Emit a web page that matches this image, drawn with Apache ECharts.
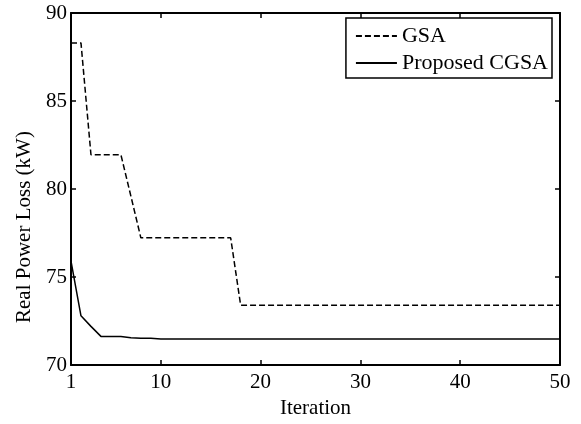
<!DOCTYPE html>
<html>
<head>
<meta charset="utf-8">
<script src="https://cdn.jsdelivr.net/npm/echarts@6/dist/echarts.min.js"></script>
<style>
html,body{margin:0;padding:0;background:#fff;}
#chart{width:581px;height:424px;}
</style>
</head>
<body>
<div id="chart"></div>
<script>
const iterations = [1,2,3,4,5,6,7,8,9,10,11,12,13,14,15,16,17,18,19,20,21,22,23,24,25,26,27,28,29,30,31,32,33,34,35,36,37,38,39,40,41,42,43,44,45,46,47,48,49,50];
const gsa = [88.3,88.3,81.95,81.95,81.95,81.95,79.6,77.23,77.23,77.23,77.23,77.23,77.23,77.23,77.23,77.23,77.23,73.4,73.4,73.4,73.4,73.4,73.4,73.4,73.4,73.4,73.4,73.4,73.4,73.4,73.4,73.4,73.4,73.4,73.4,73.4,73.4,73.4,73.4,73.4,73.4,73.4,73.4,73.4,73.4,73.4,73.4,73.4,73.4,73.4];
const cgsa = [75.9,72.8,72.2,71.63,71.63,71.62,71.55,71.53,71.52,71.48,71.48,71.48,71.48,71.48,71.48,71.48,71.48,71.48,71.48,71.48,71.48,71.48,71.48,71.48,71.48,71.48,71.48,71.48,71.48,71.48,71.48,71.48,71.48,71.48,71.48,71.48,71.48,71.48,71.48,71.48,71.48,71.48,71.48,71.48,71.48,71.48,71.48,71.48,71.48,71.48];
const xTicks = [1,10,20,30,40,50];
const yTicks = [70,75,80,85,90];
const seriesNames = ['GSA','Proposed CGSA'];
const xName = 'Iteration';
const yName = 'Real Power Loss (kW)';

const FONT = "'Liberation Serif','Times New Roman',serif";
const FS = 21;
const LFS = 22;
const pair = (vals) => iterations.map((x,i)=>[x, vals[i]]);

const baseAxisLine = {show:true, lineStyle:{color:'#000', width:2}};
const tickStyle = {show:true, inside:true, length:5, lineStyle:{color:'#000', width:1.5}};

const chart = echarts.init(document.getElementById('chart'), null, {renderer:'canvas'});
chart.setOption({
  animation:false,
  backgroundColor:'#fff',
  textStyle:{fontFamily:FONT},
  grid:{left:71, right:21, top:13, bottom:57, containLabel:false},
  legend:{
    right:29, top:18, orient:'vertical',
    data:seriesNames,
    itemWidth:41, itemHeight:14, itemGap:5,
    padding:[7,4,4,9],
    borderColor:'#000', borderWidth:1.5, backgroundColor:'#fff',
    itemStyle:{opacity:0},
    textStyle:{fontFamily:FONT, fontSize:LFS, color:'#000'}
  },
  xAxis:[{
    type:'value', min:1, max:50, position:'bottom',
    name:xName, nameLocation:'middle', nameGap:30,
    nameTextStyle:{fontFamily:FONT, fontSize:FS, color:'#000'},
    axisLine:baseAxisLine,
    axisTick:Object.assign({customValues:xTicks}, tickStyle),
    axisLabel:{customValues:xTicks, fontFamily:FONT, fontSize:FS, color:'#000', margin:7},
    splitLine:{show:false}
  },{
    type:'value', min:1, max:50, position:'top',
    axisLine:baseAxisLine,
    axisTick:Object.assign({customValues:xTicks}, tickStyle),
    axisLabel:{show:false, customValues:xTicks},
    splitLine:{show:false}
  }],
  yAxis:[{
    type:'value', min:yTicks[0], max:yTicks[yTicks.length-1], interval:5, position:'left',
    name:yName, nameLocation:'middle', nameGap:36,
    nameTextStyle:{fontFamily:FONT, fontSize:FS, color:'#000', padding:[0,76,0,0]},
    axisLine:baseAxisLine,
    axisTick:tickStyle,
    axisLabel:{fontFamily:FONT, fontSize:FS, color:'#000', margin:4},
    splitLine:{show:false}
  },{
    type:'value', min:yTicks[0], max:yTicks[yTicks.length-1], interval:5, position:'right',
    axisLine:baseAxisLine,
    axisTick:tickStyle,
    axisLabel:{show:false},
    splitLine:{show:false}
  }],
  series:[{
    name:seriesNames[0], type:'line', data:pair(gsa),
    symbol:'none', lineStyle:{color:'#000', width:1.5, type:[6,3]}, itemStyle:{color:'#000'}
  },{
    name:seriesNames[1], type:'line', data:pair(cgsa),
    symbol:'none', lineStyle:{color:'#000', width:1.5, type:'solid'}, itemStyle:{color:'#000'}
  }]
});
</script>
</body>
</html>
